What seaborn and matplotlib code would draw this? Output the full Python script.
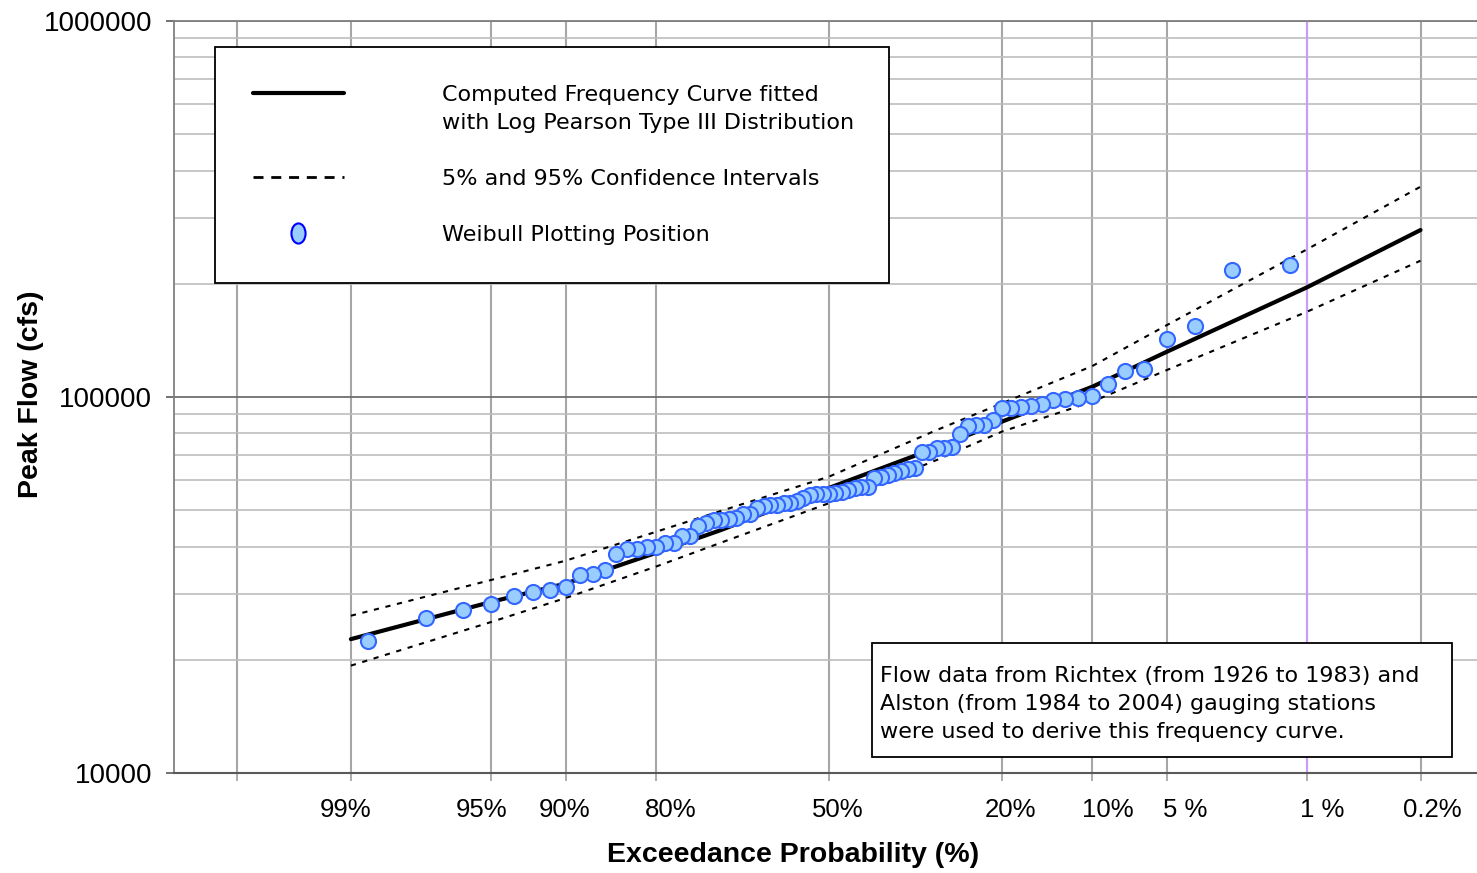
import matplotlib
matplotlib.use("Agg")
import numpy as np
import pandas as pd
import seaborn as sns
import matplotlib.pyplot as plt
from matplotlib.lines import Line2D
from matplotlib.patches import Rectangle
from matplotlib.path import Path
from matplotlib.transforms import Affine2D, ScaledTranslation
from matplotlib.ticker import FixedLocator, NullLocator, NullFormatter, FixedFormatter, LogLocator
from statistics import NormalDist

# ---------------------------------------------------------------------------
# Data
# ---------------------------------------------------------------------------
# Annual peak flows (cfs), ranked from largest to smallest (1926-2004)
peak_flows = [225000, 217000, 154000, 143000, 119000, 117500, 108000, 100600, 99300, 99000,
              98000, 95800, 94700, 94200, 93700, 93300, 86900, 84200, 84000, 83800,
              79600, 73800, 73300, 73200, 71400, 71200, 64600, 64400, 63600, 62600,
              62000, 61200, 60800, 57700, 57600, 57200, 56600, 56000, 55500, 55300,
              55200, 55100, 55000, 54000, 52900, 52400, 52100, 51700, 51600, 51300,
              50600, 48800, 48700, 47700, 47500, 47200, 47000, 46100, 45400, 42700,
              42600, 41000, 40900, 40000, 39900, 39500, 39400, 38200, 34700, 33800,
              33700, 31300, 30700, 30300, 29500, 28200, 27100, 25800, 22500]

# Log Pearson Type III frequency curve and confidence limits (cfs)
curve_exceedance = [99, 95, 90, 80, 70, 50, 30, 20, 10, 5, 1, 0.2]
computed_curve = [22700, 28500, 31900, 38500, 44300, 57300, 73400, 86000, 106500, 132000, 195800, 278000]
upper_limit = [26200, 32600, 36700, 43800, 49800, 61400, 81700, 96200, 120900, 155400, 247100, 362500]
lower_limit = [19300, 25200, 29200, 35400, 41000, 52200, 68000, 80900, 97200, 118000, 168600, 230400]

# Probability axis ticks
tick_exceedance = [99.8, 99, 95, 90, 80, 50, 20, 10, 5, 1, 0.2]
tick_labels = ["", "99%", "95%", "90%", "80%", "50%", "20%", "10%", "5 %", "1 %", "0.2%"]
label_shift_px = [0, -5, -9, -1, 15, 9, 9, 15, 18, 15, 12]

flow_ticks = [1e4, 1e5, 1e6]
flow_tick_labels = ["10000", "100000", "1000000"]

# Weibull plotting positions m / (n + 1), in percent
rank = np.arange(1, len(peak_flows) + 1)
weibull_pct = 100.0 * rank / (len(peak_flows) + 1)

points = pd.DataFrame({"exceedance": weibull_pct, "flow": peak_flows})
curves = pd.DataFrame({"exceedance": curve_exceedance, "computed": computed_curve,
                       "upper": upper_limit, "lower": lower_limit})

# ---------------------------------------------------------------------------
# Normal-probability scale for exceedance (%): high exceedance on the left
# ---------------------------------------------------------------------------
_nd = NormalDist()


def pct_to_z(p):
    p = np.clip(np.asarray(p, dtype=float), 1e-7, 100 - 1e-7)
    return np.vectorize(lambda v: _nd.inv_cdf(1.0 - v / 100.0), otypes=[float])(p)


def z_to_pct(z):
    z = np.asarray(z, dtype=float)
    return np.vectorize(lambda v: 100.0 * (1.0 - _nd.cdf(v)), otypes=[float])(z)


# ---------------------------------------------------------------------------
# Figure
# ---------------------------------------------------------------------------
sns.set_theme(style="white")
plt.rcParams["font.family"] = ["Liberation Sans", "DejaVu Sans"]
plt.rcParams["text.color"] = "black"
plt.rcParams["axes.labelcolor"] = "black"

W, H = 1477, 873
fig = plt.figure(figsize=(W / 100, H / 100), dpi=100)
ax = fig.add_axes([174 / W, 100 / H, 1303 / W, 752 / H])

sns.lineplot(data=curves, x="exceedance", y="upper", ax=ax, color="black", lw=1.5,
             linestyle=(0, (2.5, 3.2)), sort=False, estimator=None, zorder=3)
sns.lineplot(data=curves, x="exceedance", y="lower", ax=ax, color="black", lw=1.5,
             linestyle=(0, (2.5, 3.2)), sort=False, estimator=None, zorder=3)
sns.lineplot(data=curves, x="exceedance", y="computed", ax=ax, color="black", lw=3.0,
             sort=False, estimator=None, zorder=4)
sns.scatterplot(data=points, x="exceedance", y="flow", ax=ax, s=118, color="#99CCFF",
                edgecolor="#3366FF", linewidth=1.5, zorder=5, legend=False)

ax.set_xscale("function", functions=(pct_to_z, z_to_pct))
ax.set_yscale("log")
# the scale decreases with exceedance, so limits are given in ascending order
x_lo, x_hi = sorted(z_to_pct([-3.187, 3.153]))
ax.set_xlim(x_lo, x_hi)
ax.set_ylim(1e4, 1e6)

# 1 % annual chance line
ax.axvline(1, color="#CC99FF", lw=1.5, zorder=2)

# Ticks
ax.xaxis.set_major_locator(FixedLocator(tick_exceedance))
ax.xaxis.set_major_formatter(FixedFormatter(tick_labels))
ax.xaxis.set_minor_locator(NullLocator())
ax.yaxis.set_major_locator(FixedLocator(flow_ticks))
ax.yaxis.set_major_formatter(FixedFormatter(flow_tick_labels))
ax.yaxis.set_minor_locator(LogLocator(base=10, subs=np.arange(2, 10)))
ax.yaxis.set_minor_formatter(NullFormatter())

ax.tick_params(axis="x", which="major", direction="out", length=5.8, width=1.3,
               color="#A6A6A6", pad=12, labelsize=18.5, labelcolor="black", bottom=True)
ax.tick_params(axis="y", which="major", direction="out", length=5.8, width=1.2,
               color="#595959", pad=10, labelsize=20, labelcolor="black", left=True)
ax.tick_params(axis="y", which="minor", length=0)

# Grid
ax.set_axisbelow(True)
ax.grid(True, which="major", axis="x", color="#A6A6A6", lw=1.5)
ax.grid(True, which="major", axis="y", color="#6E6E6E", lw=1.3)
ax.grid(True, which="minor", axis="y", color="#BDBDBD", lw=1.2)

for side in ("left", "top"):
    ax.spines[side].set_color("#808080")
    ax.spines[side].set_linewidth(1.3)
ax.spines["bottom"].set_color("#595959")
ax.spines["bottom"].set_linewidth(1.5)
ax.spines["right"].set_visible(False)

# Tick label placement along the probability axis
for lab, dx in zip(ax.get_xticklabels(), label_shift_px):
    lab.set_transform(lab.get_transform() + ScaledTranslation(dx / 100, 0, fig.dpi_scale_trans))

# Axis titles
ax.set_xlabel("Exceedance Probability (%)", fontsize=20.5, fontweight="bold", color="black")
ax.set_ylabel("Peak Flow (cfs)", fontsize=20.5, fontweight="bold", color="black")
ax.xaxis.set_label_coords((793 - 174) / 1303, (773 - 842) / 752)
ax.yaxis.set_label_coords((44 - 174) / 1303, (773 - 394) / 752)

# Legend
ellipse = Affine2D().scale(0.7, 1.0).transform_path(Path.unit_circle())
handles = [
    Line2D([], [], color="black", lw=3.0),
    Line2D([], [], color="none", lw=0),
    Line2D([], [], color="none", lw=0),
    Line2D([], [], color="black", lw=2.0, linestyle=(0, (3.6, 2.8))),
    Line2D([], [], color="none", lw=0),
    Line2D([], [], ls="none", marker=ellipse, markersize=14.5, markerfacecolor="#99CCFF",
           markeredgecolor="#0000FF", markeredgewidth=1.5),
]
labels = ["Computed Frequency Curve fitted", "with Log Pearson Type III Distribution", "",
          "5% and 95% Confidence Intervals", "", "Weibull Plotting Position"]
leg = ax.legend(handles, labels, loc="upper left",
                bbox_to_anchor=((215 - 174) / 1303, 0.3, 674 / 1303, (773 - 47) / 752 - 0.3),
                mode="expand", borderaxespad=0, borderpad=1.7, handlelength=4.1,
                handletextpad=4.4, labelspacing=0.36,
                prop={"family": ["DejaVu Sans"], "size": 16}, labelcolor="black",
                frameon=True, fancybox=False, framealpha=1, edgecolor="black")
leg.get_frame().set_linewidth(1.3)
leg.set_zorder(10)

# Note box
ax.add_patch(Rectangle(((872 - 174) / 1303, (773 - 757) / 752), 580 / 1303, 114 / 752,
                       transform=ax.transAxes, facecolor="white", edgecolor="black",
                       lw=1.3, zorder=9))
ax.text((880 - 174) / 1303, (773 - 704) / 752,
        "Flow data from Richtex (from 1926 to 1983) and\n"
        "Alston (from 1984 to 2004) gauging stations\n"
        "were used to derive this frequency curve.",
        transform=ax.transAxes, ha="left", va="center", fontsize=16,
        family=["DejaVu Sans"], linespacing=1.48, zorder=10, color="black")

fig.savefig("out.png", dpi=100)
